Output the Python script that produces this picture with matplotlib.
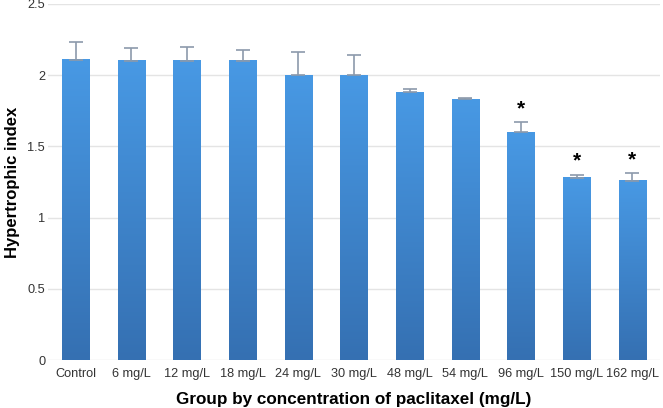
import matplotlib
matplotlib.use("Agg")
import matplotlib.pyplot as plt
import numpy as np

# Data
groups = ["Control", "6 mg/L", "12 mg/L", "18 mg/L", "24 mg/L", "30 mg/L",
          "48 mg/L", "54 mg/L", "96 mg/L", "150 mg/L", "162 mg/L"]
means = [2.11, 2.10, 2.10, 2.10, 2.00, 2.00, 1.88, 1.83, 1.60, 1.28, 1.26]
errors = [0.12, 0.09, 0.10, 0.08, 0.16, 0.14, 0.02, 0.01, 0.07, 0.02, 0.05]
significant = [False, False, False, False, False, False, False, False, True, True, True]

plt.rcParams["font.family"] = ["Liberation Sans", "DejaVu Sans"]

fig = plt.figure(figsize=(6.63, 4.08), dpi=100)
ax = fig.add_axes([0.0724, 0.1176, 0.9231, 0.8726])

x = np.arange(len(groups))
width = 0.49

# Gradient colour for each bar: darker at base, lighter at top
grad = np.linspace(0, 1, 256).reshape(-1, 1)
cmap = matplotlib.colors.LinearSegmentedColormap.from_list(
    "bar", ["#3570b2", "#4899e4"])

for xi, h in zip(x, means):
    ax.imshow(grad, extent=[xi - width / 2, xi + width / 2, 0, h],
              origin="lower", cmap=cmap, aspect="auto", zorder=2)

ax.errorbar(x, means, yerr=[np.zeros(len(errors)), errors], fmt="none",
            ecolor="#8c9aab", elinewidth=1.2, capsize=5, capthick=1.2, zorder=3)

for xi, h, e, s in zip(x, means, errors, significant):
    if s:
        ax.text(xi, h + e + 0.03, "*", ha="center", va="bottom",
                fontsize=15, fontweight="bold", color="black")

ax.set_xlim(-0.5, len(groups) - 0.5)
ax.set_ylim(0, 2.5)
ax.set_yticks([0, 0.5, 1, 1.5, 2, 2.5])
ax.set_yticklabels(["0", "0.5", "1", "1.5", "2", "2.5"])
ax.set_xticks(x)
ax.set_xticklabels(groups)

ax.yaxis.grid(True, color="#e4e4e4", linewidth=1)
ax.set_axisbelow(True)
for side in ["top", "right", "left", "bottom"]:
    ax.spines[side].set_visible(False)
ax.tick_params(axis="both", length=0, labelsize=9.2, colors="#333333")
ax.tick_params(axis="y", pad=2)
ax.tick_params(axis="x", pad=6)

ax.set_ylabel("Hypertrophic index", fontsize=12, fontweight="bold")
ax.yaxis.set_label_coords(-0.045, 0.5)
ax.set_xlabel("Group by concentration of paclitaxel (mg/L)", fontsize=12.3,
              fontweight="bold")
ax.xaxis.set_label_coords(0.5, -0.09)

fig.savefig("out.png", dpi=100)
